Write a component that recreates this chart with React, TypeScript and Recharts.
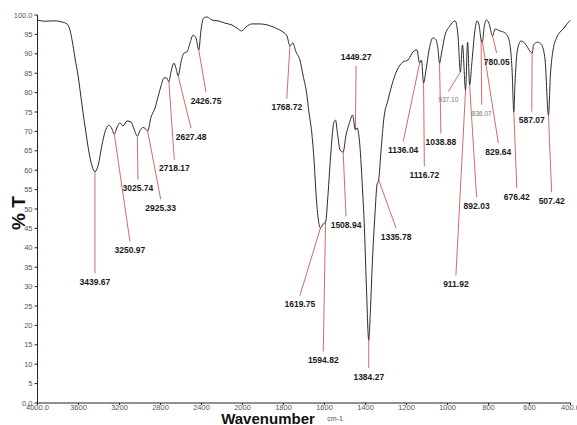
import React from "react";
import { LineChart, Line, XAxis, YAxis, ReferenceLine, ReferenceDot } from "recharts";

// Spectrum: wavenumber (cm-1) and %T
const wavenumbers = [
  4000, 3927, 3829, 3761, 3712, 3683, 3663, 3634, 3605, 3566,
  3527, 3498, 3468, 3439.67, 3410, 3371, 3332, 3302, 3273, 3250.97,
  3224, 3195, 3166, 3127, 3088, 3058, 3025.74, 3000, 2971, 2951,
  2925.33, 2893, 2854, 2824, 2795, 2766, 2741, 2718.17, 2698, 2668,
  2649, 2627.48, 2600, 2571, 2541, 2512, 2483, 2454, 2426.75, 2405,
  2380, 2346, 2298, 2239, 2171, 2102, 2054, 2008, 1983, 1954,
  1915, 1876, 1837, 1802, 1783, 1768.72, 1755, 1739, 1720, 1705,
  1687, 1676, 1662, 1651, 1641, 1630, 1619.75, 1607, 1594.82, 1583,
  1568, 1554, 1546, 1537, 1524, 1508.94, 1495, 1480, 1463, 1449.27,
  1441, 1429, 1417, 1405, 1395, 1384.27, 1376, 1366, 1354, 1344,
  1335.78, 1324, 1310, 1290, 1271, 1246, 1217, 1193, 1168, 1149,
  1136.04, 1127, 1116.72, 1105, 1090, 1071, 1056, 1046, 1038.88, 1029,
  1012, 988, 963, 949, 937.1, 927, 911.92, 902, 892.03, 880,
  866, 856, 846, 836.07, 829.64, 822, 810, 798, 780.05, 768,
  744, 720, 700, 685, 676.42, 671, 659, 641, 617, 602,
  587.07, 580, 561, 541, 524, 507.42, 498, 485, 468, 451,
  432, 417, 400,
];

const transmittance = [
  98.7, 98.4, 98.5, 98.2, 97.7, 96.1, 93.6, 88.9, 84.5, 76.8,
  69.6, 64.7, 61.1, 59.6, 61.1, 66.5, 70.6, 71.6, 70.6, 69.3,
  71.1, 72.2, 71.4, 72.7, 72.4, 70.6, 68.8, 70.2, 71.0, 70.8,
  70.1, 73.6, 76.0, 78.9, 81.7, 83.8, 83.8, 82.8, 85.3, 87.6,
  86.3, 84.3, 87.9, 90.2, 90.5, 92.8, 94.8, 94.1, 91.0, 96.1,
  99.2, 99.5, 98.7, 98.5, 97.9, 97.4, 96.6, 95.9, 96.9, 97.7,
  97.7, 97.4, 96.6, 95.6, 94.6, 92.0, 92.8, 90.5, 88.4, 84.5,
  79.8, 75.0, 69.6, 62.6, 53.6, 47.2, 45.1, 46.1, 46.6, 53.6,
  65.2, 72.4, 72.9, 69.6, 65.2, 64.7, 69.1, 71.9, 74.2, 70.4,
  70.9, 67.3, 57.5, 44.6, 29.1, 16.2, 24.0, 36.9, 48.5, 56.2,
  57.5, 65.2, 73.5, 78.1, 82.0, 85.8, 87.9, 88.4, 90.5, 91.0,
  87.6, 88.4, 82.5, 85.8, 91.0, 94.1, 93.6, 91.0, 87.6, 90.2,
  94.8, 97.2, 98.5, 94.8, 85.3, 92.3, 80.7, 93.0, 82.0, 88.4,
  96.1, 98.5, 97.4, 93.6, 93.0, 96.6, 98.7, 97.9, 94.6, 96.4,
  95.9, 95.4, 93.6, 85.8, 75.0, 82.0, 91.0, 93.3, 92.3, 91.0,
  90.2, 92.3, 93.0, 92.3, 88.4, 74.2, 84.5, 91.0, 94.1, 95.6,
  96.6, 97.7, 98.7,
];

// Axis ticks
const xTickWavenumbers = [4000, 3600, 3200, 2800, 2400, 2000, 1800, 1600, 1400, 1200, 1000, 800, 600, 400];
const xTickLabels = ["4000.0", "3600", "3200", "2800", "2400", "2000", "1800", "1600", "1400", "1200", "1000", "800", "600", "400.0"];
const yTicks = [0, 5, 10, 15, 20, 25, 30, 35, 40, 45, 50, 55, 60, 65, 70, 75, 80, 85, 90, 95, 100];

// Peak annotations
const peakLabels = [
  "3439.67", "3250.97", "3025.74", "2925.33", "2718.17", "2627.48", "2426.75", "1768.72",
  "1619.75", "1594.82", "1508.94", "1449.27", "1384.27", "1335.78", "1136.04", "1116.72",
  "1038.88", "937.10", "911.92", "892.03", "836.07", "829.64", "780.05", "676.42", "587.07", "507.42",
];
const labelWavenumbers = [
  3439.67, 3098, 3020, 2798, 2665, 2502, 2356, 1784,
  1720, 1606, 1495, 1446, 1384, 1251, 1216, 1113,
  1032, 996, 959, 858, 833, 752, 760, 662, 589, 492,
];
const labelT = [
  31.2, 39.4, 55.4, 50.3, 60.5, 68.6, 77.9, 76.2,
  25.5, 11.1, 45.9, 89.1, 6.8, 42.9, 65.2, 58.8,
  67.2, 78.1, 30.7, 50.8, 74.7, 64.8, 88.0, 53.2, 72.9, 52.1,
];
const minorLabels = ["937.10", "836.07"];

// piecewise wavenumber axis (4000-2000 compressed, 2000-400 expanded)
const toPos = (w: number) => (w >= 2000 ? (4000 - w) / 400 : 5 + (2000 - w) / 200);

const data = wavenumbers.map((w, i) => ({ pos: toPos(w), t: transmittance[i] }));
const xTicks = xTickWavenumbers.map(toPos);

const annotations = peakLabels.map((lab, i) => {
  const w = parseFloat(lab);
  const idx = wavenumbers.findIndex((v) => Math.abs(v - w) < 0.01);
  const pt = idx >= 0 ? transmittance[idx] : 50;
  const lt = labelT[i];
  const endT = lt < pt ? lt + 2.2 : lt - 2.2;
  return {
    label: lab,
    x1: toPos(w),
    y1: pt,
    x2: toPos(labelWavenumbers[i]),
    y2: endT,
    lx: toPos(labelWavenumbers[i]),
    ly: lt,
    minor: minorLabels.includes(lab),
  };
});

const tickStyle = { fontSize: 7.5, fill: "#555", fontFamily: "Liberation Sans Narrow, Liberation Sans, sans-serif" };

const XTitle = () => (
  <g>
    <text x={268} y={424} textAnchor="middle" fontFamily="Liberation Sans, Arial, sans-serif" fontWeight="bold" fontSize={15} fill="#111">
      Wavenumber
    </text>
    <text x={335} y={421} textAnchor="middle" fontFamily="Liberation Sans Narrow, sans-serif" fontSize={7} fill="#555">
      cm-1
    </text>
  </g>
);

const YTitle = () => (
  <text x={25} y={213} transform="rotate(-90 25 213)" textAnchor="middle" fontFamily="Liberation Sans, Arial, sans-serif" fontWeight="bold" fontSize={19} fill="#111">
    % T
  </text>
);

export default function App() {
  return (
    <div style={{ position: "absolute", left: 0, top: 0, width: 577, height: 425, background: "#fff" }}>
      <LineChart width={577} height={425} data={data} margin={{ top: 15, right: 6.5, bottom: 8, left: 7.5 }}>
        <XAxis
          dataKey="pos"
          type="number"
          domain={[0, 13]}
          ticks={xTicks}
          tickFormatter={(v: number) => {
            const i = xTicks.findIndex((p) => Math.abs(p - v) < 1e-6);
            return i >= 0 ? xTickLabels[i] : "";
          }}
          interval={0}
          height={14}
          tickSize={2}
          tickMargin={0}
          stroke="#222"
          tick={tickStyle}
          allowDataOverflow
          label={{ content: () => <XTitle /> }}
        />
        <YAxis
          type="number"
          domain={[0, 100]}
          ticks={yTicks}
          interval={0}
          width={30}
          tickSize={3}
          tickMargin={2}
          stroke="#222"
          tick={tickStyle}
          tickFormatter={(v: number) => (v === 100 ? "100.0" : v === 0 ? "0.0" : String(v))}
          label={{ content: () => <YTitle /> }}
        />
        {annotations.map((a) => (
          <ReferenceLine
            key={"l" + a.label}
            segment={[{ x: a.x1, y: a.y1 }, { x: a.x2, y: a.y2 }]}
            stroke="#d46a6a"
            strokeWidth={1}
            ifOverflow="visible"
          />
        ))}
        <Line
          type="monotone"
          dataKey="t"
          stroke="#2a2a2a"
          strokeWidth={1}
          dot={false}
          isAnimationActive={false}
        />
        {annotations.map((a) => (
          <ReferenceDot
            key={"d" + a.label}
            x={a.lx}
            y={a.ly}
            r={0}
            ifOverflow="visible"
            shape={(p: any) => (
              <text
                x={p.cx}
                y={p.cy}
                textAnchor="middle"
                dominantBaseline="central"
                fontFamily="Liberation Sans, Arial, sans-serif"
                fontWeight={a.minor ? "normal" : "bold"}
                fontSize={a.minor ? 6.5 : 8.5}
                fill={a.minor ? "#777" : "#1a1a1a"}
              >
                {a.label}
              </text>
            )}
          />
        ))}
      </LineChart>
    </div>
  );
}
